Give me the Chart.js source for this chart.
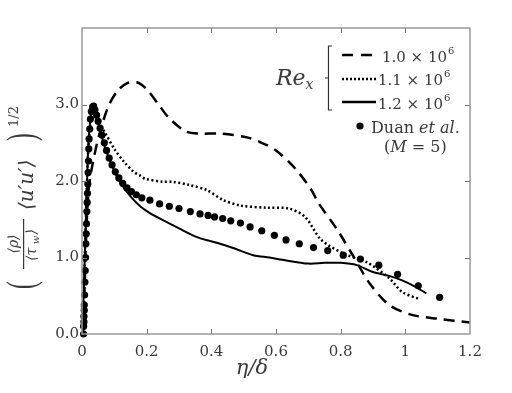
<!DOCTYPE html>
<html>
<head>
<meta charset="utf-8">
<script src="https://cdn.jsdelivr.net/npm/chart.js@4"></script>
<style>
  html, body { margin: 0; padding: 0; background: #fff; }
  #wrap { width: 512px; height: 393px; }
</style>
</head>
<body>
<div id="wrap"><canvas id="profile" width="512" height="393"></canvas></div>
<script>
// x tick labels and y tick labels
const xTickLabels = ["0", "0.2", "0.4", "0.6", "0.8", "1", "1.2"]
const yTickLabels = ["0.0", "1.0", "2.0", "3.0", ""]

// Re_x = 1.0e6 (dashed)
const etaDashed = [0.003, 0.008, 0.013, 0.02, 0.03, 0.05, 0.08, 0.11, 0.14, 0.17, 0.2, 0.24, 0.27, 0.32, 0.36, 0.43, 0.51, 0.55, 0.6, 0.66, 0.71, 0.73, 0.79, 0.84, 0.89, 0.95, 1.02, 1.1, 1.2]
const ampDashed = [0.0, 0.6, 1.3, 1.86, 2.16, 2.55, 2.96, 3.18, 3.28, 3.29, 3.2, 2.98, 2.82, 2.65, 2.62, 2.62, 2.57, 2.51, 2.4, 2.16, 1.88, 1.72, 1.36, 1.01, 0.66, 0.38, 0.25, 0.2, 0.15]

// Re_x = 1.1e6 (dotted)
const etaDotted = [0.0, 0.005, 0.01, 0.015, 0.02, 0.03, 0.037, 0.045, 0.07, 0.1, 0.13, 0.16, 0.18, 0.195, 0.25, 0.28, 0.33, 0.386, 0.437, 0.489, 0.571, 0.64, 0.69, 0.74, 0.81, 0.88, 0.95, 0.99, 1.04]
const ampDotted = [0.0, 0.5, 1.2, 1.9, 2.45, 2.85, 2.9, 2.81, 2.64, 2.42, 2.25, 2.12, 2.07, 2.03, 1.99, 1.99, 1.95, 1.88, 1.75, 1.68, 1.65, 1.64, 1.53, 1.23, 1.05, 0.94, 0.73, 0.55, 0.46]

// Re_x = 1.2e6 (solid)
const etaSolid = [0.0, 0.005, 0.01, 0.015, 0.02, 0.03, 0.035, 0.045, 0.07, 0.1, 0.12, 0.15, 0.18, 0.21, 0.24, 0.3, 0.36, 0.42, 0.47, 0.53, 0.58, 0.62, 0.7, 0.75, 0.8, 0.85, 0.9, 0.95, 0.99, 1.03, 1.065]
const ampSolid = [0.0, 0.5, 1.2, 1.9, 2.5, 2.95, 2.97, 2.85, 2.45, 2.13, 1.97, 1.8, 1.67, 1.58, 1.51, 1.38, 1.26, 1.19, 1.12, 1.03, 1.0, 0.97, 0.92, 0.93, 0.93, 0.9, 0.81, 0.76, 0.7, 0.62, 0.53]

// Duan et al. (M = 5)
const etaDuan = [0.005, 0.005, 0.006, 0.006, 0.007, 0.007, 0.008, 0.009, 0.01, 0.011, 0.012, 0.013, 0.014, 0.015, 0.016, 0.017, 0.018, 0.019, 0.02, 0.021, 0.022, 0.024, 0.026, 0.029, 0.033,
  0.036, 0.04, 0.045, 0.05, 0.056, 0.062, 0.069, 0.076, 0.084, 0.093, 0.103, 0.114, 0.126, 0.139, 0.153, 0.168, 0.185, 0.21, 0.24, 0.27, 0.3, 0.335, 0.365, 0.39, 0.41, 0.435, 0.46, 0.49, 0.52, 0.556, 0.595, 0.631, 0.672, 0.716, 0.76, 0.808, 0.861, 0.918, 0.976, 1.04, 1.106]
const ampDuan = [0.0, 0.1, 0.16, 0.23, 0.31, 0.38, 0.51, 0.68, 0.83, 1.0, 1.18, 1.31, 1.44, 1.6, 1.72, 1.84, 1.96, 2.11, 2.26, 2.42, 2.55, 2.68, 2.81, 2.91, 2.97,
  2.98, 2.93, 2.86, 2.78, 2.69, 2.6, 2.5, 2.4, 2.3, 2.21, 2.12, 2.04, 1.97, 1.91, 1.86, 1.82, 1.78, 1.75, 1.7, 1.67, 1.64, 1.6, 1.57, 1.55, 1.53, 1.51, 1.48, 1.45, 1.4, 1.35, 1.29, 1.23, 1.18, 1.13, 1.09, 1.03, 0.98, 0.9, 0.78, 0.63, 0.48]

const pts = (xs, ys) => xs.map((x, i) => ({ x: x, y: ys[i] }))

const SERIF = "'DejaVu Serif', 'Liberation Serif', serif"
const TXT = "#3a3a3a"

// stretched bracket glyph for the rotated y title
function tallGlyph(ctx, ch, u, v) {
  ctx.save()
  ctx.translate(u, v)
  ctx.scale(1, 1.75)
  ctx.font = "23px 'Liberation Serif', serif"
  ctx.textAlign = "left"
  ctx.fillText(ch, 0, 0)
  ctx.restore()
}

// inward ticks, box, axis titles and the legend
const decorations = {
  id: "decorations",
  afterDraw(chart) {
    const ctx = chart.ctx
    const a = chart.chartArea
    const xs = chart.scales.x
    const ys = chart.scales.y
    ctx.save()
    ctx.strokeStyle = "#9a9a9a"
    ctx.lineWidth = 1.5
    ctx.strokeRect(a.left, a.top, a.right - a.left, a.bottom - a.top)
    ctx.lineWidth = 1
    ctx.strokeStyle = "#777"
    ctx.beginPath()
    for (let v = 0.2; v < 1.19; v += 0.2) {
      const px = Math.round(xs.getPixelForValue(v)) + 0.5
      ctx.moveTo(px, a.bottom); ctx.lineTo(px, a.bottom - 5)
      ctx.moveTo(px, a.top); ctx.lineTo(px, a.top + 5)
    }
    for (let v = 1; v <= 3; v++) {
      const py = Math.round(ys.getPixelForValue(v)) + 0.5
      ctx.moveTo(a.left, py); ctx.lineTo(a.left + 5, py)
      ctx.moveTo(a.right, py); ctx.lineTo(a.right - 5, py)
    }
    ctx.stroke()

    // x title
    ctx.fillStyle = TXT
    ctx.textAlign = "center"
    ctx.textBaseline = "alphabetic"
    ctx.font = "italic 21px " + SERIF
    ctx.fillText("\u03B7/\u03B4", 252, 374)

    // y title, rotated
    ctx.save()
    ctx.translate(0, 393)
    ctx.rotate(-Math.PI / 2)
    tallGlyph(ctx, "(", 104, 34)
    ctx.textAlign = "center"
    ctx.font = "italic 14px " + SERIF
    ctx.fillText("\u27E8\u03C1\u27E9", 149, 18)
    ctx.fillText("\u27E8\u03C4   \u27E9", 148, 36)
    ctx.font = "italic 10px " + SERIF
    ctx.fillText("w", 153, 39)
    ctx.fillRect(124, 23, 50, 1.2)
    ctx.textAlign = "left"
    ctx.font = "italic 20px " + SERIF
    ctx.fillText("\u27E8u\u2032u\u2032\u27E9", 183, 33)
    tallGlyph(ctx, ")", 252, 34)
    ctx.font = "13px " + SERIF
    ctx.fillText("1/2", 266, 18)
    ctx.restore()

    // legend
    ctx.font = "italic 22px " + SERIF
    ctx.textAlign = "left"
    ctx.fillText("Re", 276, 85)
    const rw = ctx.measureText("Re").width
    ctx.font = "italic 14px " + SERIF
    ctx.fillText("x", 276 + rw, 89)

    ctx.strokeStyle = "#333"
    ctx.lineWidth = 1.2
    ctx.beginPath()
    ctx.moveTo(332, 46); ctx.lineTo(328.5, 46); ctx.lineTo(328.5, 110); ctx.lineTo(332, 110)
    ctx.moveTo(328.5, 78); ctx.lineTo(325, 78)
    ctx.stroke()

    ctx.strokeStyle = "#000"
    ctx.lineWidth = 2.5
    const samples = [[55, [11, 8]], [79, [2, 2]], [102, []]]
    samples.forEach(([y, dash]) => {
      ctx.setLineDash(dash)
      ctx.beginPath()
      ctx.moveTo(342, y); ctx.lineTo(376, y)
      ctx.stroke()
    })
    ctx.setLineDash([])

    const reLabels = [["1.0 \u00D7 10", 382, 62], ["1.1 \u00D7 10", 378, 85], ["1.2 \u00D7 10", 378, 109]]
    reLabels.forEach(([t, x, y]) => {
      ctx.font = "15px " + SERIF
      ctx.fillText(t, x, y)
      const w = ctx.measureText(t).width
      ctx.font = "10px " + SERIF
      ctx.fillText("6", x + w + 1, y - 8)
    })

    ctx.fillStyle = "#000"
    ctx.beginPath()
    ctx.arc(360, 126, 3.6, 0, Math.PI * 2)
    ctx.fill()
    ctx.fillStyle = TXT
    ctx.font = "16px " + SERIF
    ctx.fillText("Duan ", 371, 133)
    let w = ctx.measureText("Duan ").width
    ctx.font = "italic 16px " + SERIF
    ctx.fillText("et al.", 371 + w, 133)
    ctx.font = "16px " + SERIF
    ctx.fillText("(", 384, 152)
    w = ctx.measureText("(").width
    ctx.font = "italic 16px " + SERIF
    ctx.fillText("M", 384 + w, 152)
    w += ctx.measureText("M").width
    ctx.font = "16px " + SERIF
    ctx.fillText(" = 5)", 384 + w, 152)
    ctx.restore()
  }
}

const ctx = document.getElementById("profile")

new Chart(ctx, {
  type: "scatter",
  data: {
    datasets: [
      {
        label: "1.0e6",
        data: pts(etaDashed, ampDashed),
        showLine: true,
        borderColor: "#000",
        borderWidth: 2.5,
        borderDash: [11, 7],
        pointRadius: 0,
        tension: 0.3,
      },
      {
        label: "1.1e6",
        data: pts(etaDotted, ampDotted),
        showLine: true,
        borderColor: "#000",
        borderWidth: 2.5,
        borderDash: [2, 2.5],
        pointRadius: 0,
        tension: 0.3,
      },
      {
        label: "1.2e6",
        data: pts(etaSolid, ampSolid),
        showLine: true,
        borderColor: "#000",
        borderWidth: 2,
        pointRadius: 0,
        tension: 0.3,
      },
      {
        label: "Duan",
        data: pts(etaDuan, ampDuan),
        showLine: false,
        backgroundColor: "#000",
        borderColor: "#000",
        pointRadius: 3.6,
        borderWidth: 0,
        clip: false,
      },
    ],
  },
  options: {
    responsive: false,
    animation: false,
    layout: {
      padding: { top: 28, right: 42, left: 0, bottom: 0 }
    },
    plugins: {
      legend: { display: false },
      tooltip: { enabled: false },
    },
    scales: {
      x: {
        type: "linear",
        min: 0,
        max: 1.2,
        grid: { display: false, drawTicks: false },
        border: { display: false },
        afterFit: s => { s.height = 59 },
        afterBuildTicks: s => {
          s.ticks = xTickLabels.map((t, i) => ({ value: i * 0.2 }))
        },
        ticks: {
          padding: 9,
          color: TXT,
          font: { family: SERIF, size: 15 },
          callback: (v, i) => xTickLabels[i],
        },
      },
      y: {
        type: "linear",
        min: 0,
        max: 4,
        grid: { display: false, drawTicks: false },
        border: { display: false },
        afterFit: s => { s.width = 82 },
        afterBuildTicks: s => {
          s.ticks = yTickLabels.map((t, i) => ({ value: i }))
        },
        ticks: {
          padding: 3,
          color: TXT,
          font: { family: SERIF, size: 15 },
          callback: (v, i) => yTickLabels[i],
        },
      },
    },
  },
  plugins: [decorations],
})
</script>
</body>
</html>
